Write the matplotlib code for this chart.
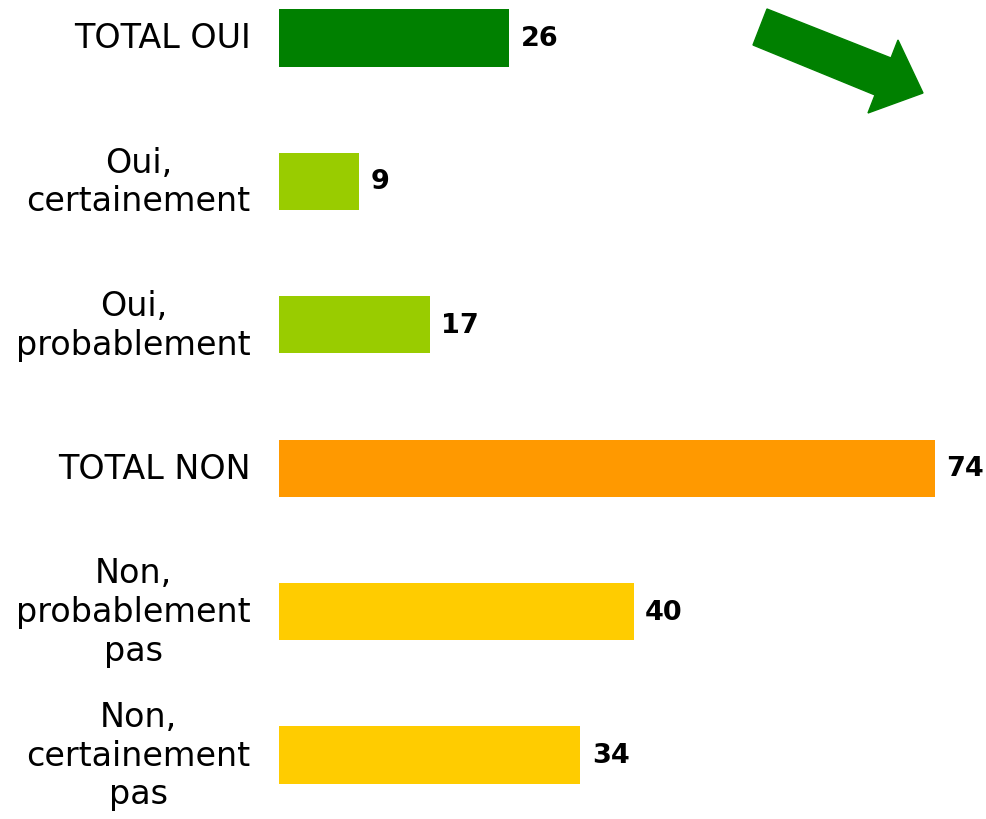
import matplotlib
matplotlib.use("Agg")
import matplotlib.pyplot as plt
from matplotlib.patches import Polygon

categories = ["TOTAL OUI", "Oui,\ncertainement", "Oui,\nprobablement", "TOTAL NON",
              "Non,\nprobablement\npas", "Non,\ncertainement\npas"]
values = [26, 9, 17, 74, 40, 34]
colors = ["#008000", "#99CC00", "#99CC00", "#FF9900", "#FFCC00", "#FFCC00"]

W, H = 987, 820
fig = plt.figure(figsize=(W / 100, H / 100), dpi=100)
ax = fig.add_axes([279 / W, 0, 1 - 279 / W, 1])

pos = list(range(len(categories)))
ax.barh(pos, values, height=0.40, color=colors)
ax.set_xlim(0, (W - 279) / 8.865)
ax.set_ylim((H - 39) / 143.4, -39 / 143.4)
for p, v in zip(pos, values):
    ax.text(v + 1.3, p, str(v), va="center", ha="left", fontsize=19.5,
            fontweight="bold", color="black")
for p, c in zip(pos, categories):
    ax.text(-3.2, p, c, va="center", ha="right",
            multialignment="center", fontsize=24, linespacing=1.22,
            color="black")
ax.axis("off")

arrow_px = [(767, 10), (753, 46), (875, 96), (868, 114), (923, 94), (898, 41), (891, 59)]
pts = [(x / W, 1 - y / H) for x, y in arrow_px]
fig.patches.append(Polygon(pts, closed=True, color="#008000", transform=fig.transFigure))

fig.savefig("out.png", dpi=100)
